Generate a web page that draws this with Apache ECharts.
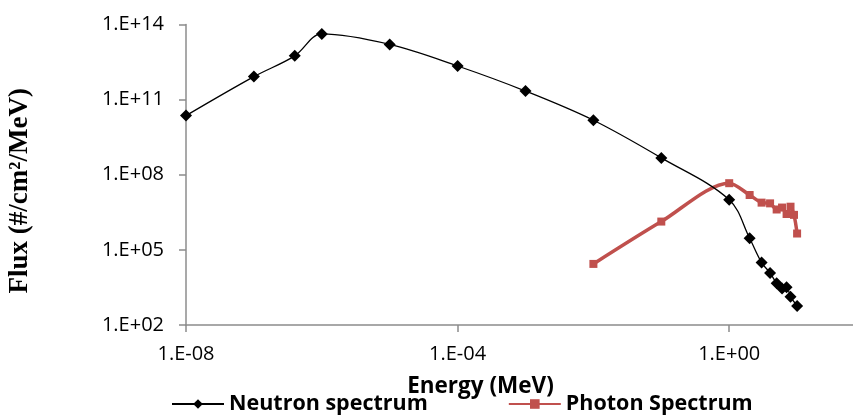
<!DOCTYPE html>
<html>
<head>
    <meta charset="utf-8">
    <title>Neutron and photon spectrum</title>
    <script src="https://cdn.jsdelivr.net/npm/echarts@6/dist/echarts.min.js"></script>
    <style>
        html, body { margin: 0; padding: 0; background: #fff; }
    </style>
</head>

<body>
    <div id="demo" style="width: 853px;height:417px;"></div>
    <script type="text/javascript">
        // energy (MeV) and flux (#/cm2/MeV)
        var neutronEnergy = [1e-8, 1e-7, 4e-7, 1e-6, 1e-5, 1e-4, 1e-3, 1e-2, 1e-1, 1, 2, 3, 4, 5, 6, 7, 8, 10];
        var neutronFlux = [2.3e10, 8.3e11, 5.6e12, 4.2e13, 1.6e13, 2.2e12, 2.2e11, 1.5e10, 4.7e8, 1.0e7,
                           2.9e5, 3.1e4, 1.2e4, 4.6e3, 2.9e3, 3.2e3, 1.35e3, 5.8e2];
        var photonEnergy = [1e-2, 1e-1, 1, 2, 3, 4, 5, 6, 7, 8, 9, 10];
        var photonFlux = [2.75e4, 1.35e6, 4.6e7, 1.55e7, 7.7e6, 7.2e6, 4.1e6, 4.9e6, 2.7e6, 5.3e6, 2.5e6, 4.5e5];

        var seriesNames = ['Neutron spectrum', 'Photon Spectrum'];

        function pairs(xs, ys) {
            return xs.map(function (x, i) { return [x, ys[i]]; });
        }

        // labels like 1.E+14 / 1.E-08
        function sciLabel(value) {
            var e = Math.round(Math.log10(value));
            var s = String(Math.abs(e));
            if (s.length < 2) s = '0' + s;
            return '1.E' + (e < 0 ? '-' : '+') + s;
        }

        var axisGray = '#8c8c8c';
        var tickFont = { fontFamily: 'Open Sans', fontSize: 20, color: '#000' };

        var chart = echarts.init(document.getElementById('demo'));

        var option = {
            animation: false,
            grid: {
                left: 186,
                right: -12,
                top: 24.5,
                bottom: 92,
                outerBoundsMode: 'none'
            },
            legend: {
                data: seriesNames,
                left: 166,
                top: 388,
                itemWidth: 52,
                itemHeight: 12,
                itemGap: 80,
                textStyle: {
                    fontFamily: 'Open Sans',
                    fontWeight: 'bold',
                    fontSize: 21.5,
                    color: '#000'
                }
            },
            xAxis: {
                type: 'log',
                min: 1e-8,
                max: 1e2,
                interval: 4,
                name: 'Energy (MeV)',
                nameLocation: 'middle',
                nameGap: 50,
                nameTextStyle: {
                    fontFamily: 'Open Sans',
                    fontWeight: 'bold',
                    fontSize: 22.5,
                    color: '#000',
                    padding: [0, 90, 0, 0]
                },
                axisLine: { lineStyle: { color: axisGray, width: 1.5 } },
                axisTick: { show: true, inside: false, length: 7, lineStyle: { color: axisGray, width: 1.5 } },
                minorTick: { show: false },
                splitLine: { show: false },
                axisLabel: Object.assign({ margin: 19, showMaxLabel: false, formatter: sciLabel }, tickFont)
            },
            yAxis: {
                type: 'log',
                min: 1e2,
                max: 1e14,
                interval: 3,
                name: 'Flux (#/cm²/MeV)',
                nameLocation: 'middle',
                nameRotate: 90,
                nameGap: 152,
                nameTextStyle: {
                    fontFamily: 'Liberation Serif',
                    fontWeight: 'bold',
                    fontSize: 27,
                    color: '#000',
                    padding: [0, 32, 0, 0]
                },
                axisLine: { show: true, lineStyle: { color: axisGray, width: 1.5 } },
                axisTick: { show: true, inside: false, length: 7, lineStyle: { color: axisGray, width: 1.5 } },
                minorTick: { show: false },
                splitLine: { show: false },
                axisLabel: Object.assign({ margin: 22, formatter: sciLabel }, tickFont)
            },
            series: [
                {
                    name: seriesNames[0],
                    type: 'line',
                    data: pairs(neutronEnergy, neutronFlux),
                    smooth: 0.35,
                    symbol: 'diamond',
                    symbolSize: 12,
                    lineStyle: { color: '#000', width: 1.3 },
                    itemStyle: { color: '#000' },
                    z: 3
                },
                {
                    name: seriesNames[1],
                    type: 'line',
                    data: pairs(photonEnergy, photonFlux),
                    smooth: 0.3,
                    symbol: 'rect',
                    symbolSize: 8,
                    lineStyle: { color: '#c0504d', width: 3.5 },
                    itemStyle: { color: '#c0504d' },
                    z: 2
                }
            ]
        };

        chart.setOption(option);
    </script>
</body>
</html>
